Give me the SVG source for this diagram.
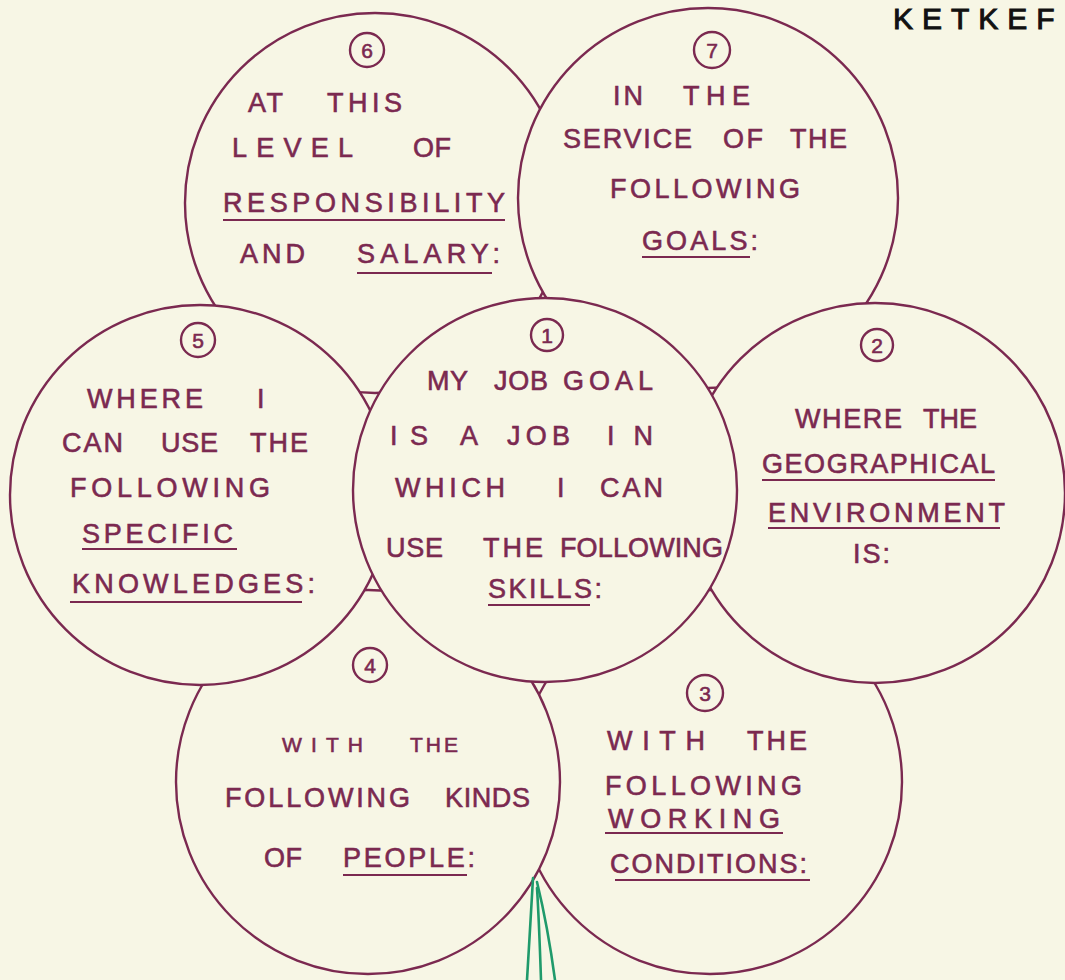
<svg xmlns="http://www.w3.org/2000/svg" width="1065" height="980" viewBox="0 0 1065 980">
<style>
.bg{fill:#f7f6e5}
.c{fill:#f7f6e5;stroke:#7b2950;stroke-width:2.4}
.t{font-family:"Liberation Sans",Arial,sans-serif;font-size:27px;fill:#7b2950;stroke:#7b2950;stroke-width:0.6}
.s{font-size:21px}
.u{stroke:#7b2950;stroke-width:2;fill:none}
.b{fill:none;stroke:#7b2950;stroke-width:2.4}
.n{font-family:"Liberation Sans",Arial,sans-serif;font-size:21px;fill:#7b2950;stroke:#7b2950;stroke-width:0.6;text-anchor:middle}
.g{fill:none;stroke:#1f9a6b;stroke-width:2.6;stroke-linecap:round}
</style>
<rect class="bg" x="0" y="0" width="1065" height="980"/>
<text x="893" y="29" font-family="Liberation Sans, Arial, sans-serif" font-size="30" fill="#111" stroke="#111" stroke-width="1" letter-spacing="9">KETKEF</text>

<g id="node6">
<circle class="c" cx="375" cy="203" r="190"/>
<circle class="b" cx="367" cy="50" r="17"/><text class="n" x="367" y="58">6</text>
<g class="t">
<text x="248" y="112" textLength="35">AT</text><text x="327" y="112" textLength="75">THIS</text>
<text x="232" y="157" textLength="121">LEVEL</text><text x="413" y="157" textLength="38">OF</text>
<text x="223" y="212" textLength="282">RESPONSIBILITY</text>
<text x="240" y="263" textLength="65">AND</text><text x="357" y="263" textLength="143">SALARY:</text>
</g>
<path class="u" d="M223,220 H505 M357,273 H492"/>
</g>

<g id="node7">
<circle class="c" cx="708" cy="198" r="190"/>
<circle class="b" cx="712" cy="50" r="18"/><text class="n" x="712" y="58">7</text>
<g class="t">
<text x="613" y="105" textLength="30">IN</text><text x="683" y="105" textLength="67">THE</text>
<text x="563" y="148" textLength="129">SERVICE</text><text x="723" y="148" textLength="40">OF</text><text x="790" y="148" textLength="57">THE</text>
<text x="610" y="198" textLength="190">FOLLOWING</text>
<text x="642" y="250" textLength="116">GOALS:</text>
</g>
<path class="u" d="M642,257 H750"/>
</g>

<g id="node3">
<circle class="c" cx="710" cy="782" r="192"/>
<circle class="b" cx="705" cy="693" r="18"/><text class="n" x="705" y="701">3</text>
<g class="t">
<text x="607" y="750" textLength="98">WITH</text><text x="747" y="750" textLength="60">THE</text>
<text x="605" y="795" textLength="197">FOLLOWING</text>
<text x="608" y="828" textLength="172">WORKING</text>
<text x="610" y="873" textLength="197">CONDITIONS:</text>
</g>
<path class="u" d="M605,833 H783 M615,880 H810"/>
</g>

<g id="node2">
<circle class="c" cx="875" cy="493" r="190"/>
<circle class="b" cx="877" cy="345" r="16"/><text class="n" x="877" y="353">2</text>
<g class="t">
<text x="795" y="428" textLength="107">WHERE</text><text x="923" y="428" textLength="54">THE</text>
<text x="762" y="473" textLength="233">GEOGRAPHICAL</text>
<text x="768" y="522" textLength="237">ENVIRONMENT</text>
<text x="853" y="563" textLength="37">IS:</text>
</g>
<path class="u" d="M762,480 H995 M768,528 H1000"/>
</g>

<g id="node4">
<circle class="c" cx="368" cy="782" r="192"/>
<circle class="b" cx="370" cy="665" r="17"/><text class="n" x="370" y="673">4</text>
<g class="t">
<text class="s" x="282" y="752" textLength="81">WITH</text><text class="s" x="410" y="752" textLength="48">THE</text>
<text x="225" y="807" textLength="185">FOLLOWING</text><text x="445" y="807" textLength="85">KINDS</text>
<text x="264" y="867" textLength="38">OF</text><text x="343" y="867" textLength="132">PEOPLE:</text>
</g>
<path class="u" d="M343,875 H467"/>
</g>

<g id="node5">
<circle class="c" cx="200" cy="495" r="190"/>
<circle class="b" cx="198" cy="340" r="17"/><text class="n" x="198" y="348">5</text>
<g class="t">
<text x="87" y="408" textLength="116">WHERE</text><text x="257" y="408">I</text>
<text x="62" y="452" textLength="61">CAN</text><text x="161" y="452" textLength="57">USE</text><text x="250" y="452" textLength="58">THE</text>
<text x="70" y="497" textLength="200">FOLLOWING</text>
<text x="82" y="543" textLength="151">SPECIFIC</text>
<text x="72" y="593" textLength="243">KNOWLEDGES:</text>
</g>
<path class="u" d="M82,549 H237 M70,602 H302"/>
</g>

<g id="node1">
<circle class="c" cx="545" cy="490" r="192"/>
<circle class="b" cx="547" cy="335" r="16"/><text class="n" x="547" y="343">1</text>
<g class="t">
<text x="427" y="390" textLength="41">MY</text><text x="494" y="390" textLength="54">JOB</text><text x="563" y="390" textLength="90">GOAL</text>
<text x="390" y="445" textLength="38">IS</text><text x="460" y="445" textLength="20">A</text><text x="507" y="445" textLength="63">JOB</text><text x="607" y="445" textLength="46">IN</text>
<text x="395" y="497" textLength="110">WHICH</text><text x="557" y="497">I</text><text x="600" y="497" textLength="63">CAN</text>
<text x="386" y="557" textLength="57">USE</text><text x="483" y="557" textLength="60">THE</text><text x="560" y="557" textLength="163">FOLLOWING</text>
<text x="488" y="598" textLength="114">SKILLS:</text>
</g>
<path class="u" d="M488,605 H590"/>
</g>

<g id="stem">
<path class="g" d="M533,878 C531,910 529,950 527,980"/>
<path class="g" d="M537,888 C539,920 540,950 541,980"/>
<path class="g" d="M537,882 C545,915 551,950 555,980"/>
</g>
</svg>
